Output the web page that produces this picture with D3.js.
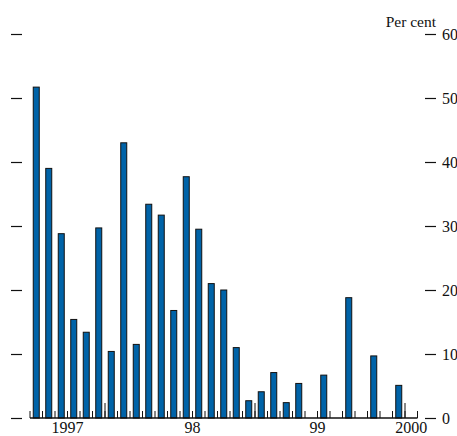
<!DOCTYPE html>
<html>
<head>
<meta charset="utf-8">
<script src="https://cdn.jsdelivr.net/npm/d3@7"></script>
<style>
  html, body { margin: 0; padding: 0; background: #fff; }
  svg { display: block; }
  text { font-family: "Liberation Serif", "Times New Roman", serif; fill: #111; }
</style>
</head>
<body>
<svg id="chart" width="457" height="436"></svg>
<script>
// Period slots along the time axis (one slot per observation period)
const slotCount = 31;
const barSlots = [0, 1, 2, 3, 4, 5, 6, 7, 8, 9, 10, 11, 12, 13, 14, 15, 16, 17, 18, 19, 20, 21, 23, 25, 27, 29];
const barValues = [51.7, 39.0, 28.8, 15.4, 13.4, 29.7, 10.4, 43.0, 11.5, 33.4, 31.7, 16.8, 37.7, 29.5, 21.0, 20.0, 11.0, 2.7, 4.1, 7.1, 2.4, 5.4, 6.7, 18.8, 9.7, 5.1];

// Year labels and where they sit on the slot axis
const yearLabels = ["1997", "98", "99", "2000"];
const yearLabelSlots = [3, 13, 23, 30.5];
// Slot boundaries marked with a long tick
const majorTickSlots = [6, 18, 30];

// Value axis
const yTicks = [0, 10, 20, 30, 40, 50, 60];
const yUnit = "Per cent";

const svg = d3.select("#chart");

const x = d3.scaleLinear().domain([0, slotCount]).range([30, 417.5]);
const y = d3.scaleLinear().domain([0, 60]).range([418, 34]);
const slotW = x(1) - x(0);
const barW = 6;

// Left value ticks (unlabelled)
svg.append("g")
  .attr("transform", "translate(22,0)")
  .call(d3.axisLeft(y).tickValues(yTicks).tickSize(11).tickFormat(""))
  .call(g => g.select(".domain").remove())
  .call(g => g.selectAll("line").attr("stroke", "#111").attr("stroke-width", 1.2));

// Right value ticks with labels
svg.append("g")
  .attr("transform", "translate(425,0)")
  .attr("font-family", null)
  .call(d3.axisRight(y).tickValues(yTicks).tickSize(11).tickPadding(6).tickFormat(d3.format("d")))
  .call(g => g.attr("font-family", "Liberation Serif, serif").attr("font-size", 16))
  .call(g => g.select(".domain").remove())
  .call(g => g.selectAll("line").attr("stroke", "#111").attr("stroke-width", 1.2))
  .call(g => g.selectAll("text")
    .style("font-family", "'Liberation Serif', serif")
    .style("font-size", "16px")
    .attr("fill", "#111"));

svg.append("text")
  .attr("x", 436)
  .attr("y", 27)
  .attr("text-anchor", "end")
  .attr("font-size", 15.5)
  .text(yUnit);

// Bars
svg.append("g")
  .selectAll("rect")
  .data(barSlots.map((s, i) => ({ slot: s, value: barValues[i] })))
  .join("rect")
  .attr("x", d => x(d.slot) + slotW / 2 - barW / 2)
  .attr("y", d => y(d.value))
  .attr("width", barW)
  .attr("height", d => y(0) - y(d.value))
  .attr("fill", "#0063a8")
  .attr("stroke", "#111")
  .attr("stroke-width", 1);

// Time axis: short ticks at every slot boundary, long ticks at the marked ones
const boundaries = d3.range(0, slotCount + 1);
const axisG = svg.append("g");
axisG.selectAll("line.minor")
  .data(boundaries)
  .join("line")
  .attr("class", "minor")
  .attr("x1", d => x(d)).attr("x2", d => x(d))
  .attr("y1", y(0)).attr("y2", y(0) - 7)
  .attr("stroke", "#111").attr("stroke-width", 1);
axisG.selectAll("line.major")
  .data(majorTickSlots)
  .join("line")
  .attr("class", "major")
  .attr("x1", d => x(d)).attr("x2", d => x(d))
  .attr("y1", y(0)).attr("y2", y(0) - 15)
  .attr("stroke", "#111").attr("stroke-width", 1);
axisG.append("line")
  .attr("x1", x(0)).attr("x2", x(slotCount))
  .attr("y1", y(0)).attr("y2", y(0))
  .attr("stroke", "#111").attr("stroke-width", 1.5);

axisG.selectAll("text")
  .data(yearLabels)
  .join("text")
  .attr("x", (d, i) => x(yearLabelSlots[i]))
  .attr("y", 433)
  .attr("text-anchor", "middle")
  .attr("font-size", 16)
  .text(d => d);
</script>
</body>
</html>
